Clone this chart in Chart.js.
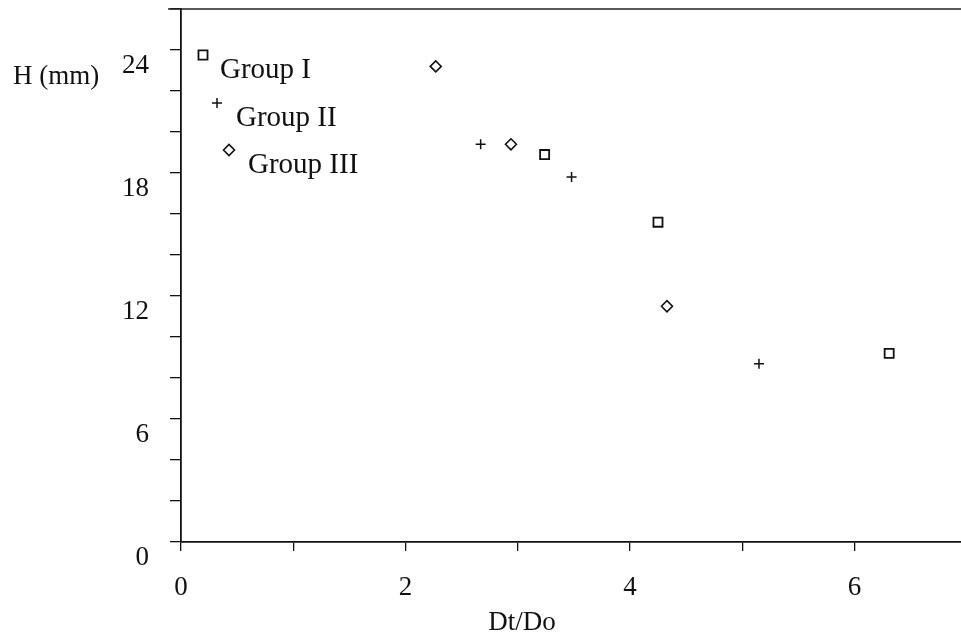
<!DOCTYPE html>
<html>
<head>
<meta charset="utf-8">
<title>H vs Dt/Do</title>
<script src="https://cdn.jsdelivr.net/npm/chart.js@4/dist/chart.umd.min.js"></script>
<style>
  html, body { margin: 0; padding: 0; background: #fff; }
  canvas { display: block; }
</style>
</head>
<body>
<canvas id="chart" width="961" height="639"></canvas>
<script>
// Measured points, H (mm) against Dt/Do
const groupI_x   = [3.24, 4.25, 6.31];
const groupI_y   = [18.9, 15.6, 9.2];
const groupII_x  = [2.67, 3.48, 5.15];
const groupII_y  = [19.4, 17.8, 8.7];
const groupIII_x = [2.27, 2.94, 4.33];
const groupIII_y = [23.2, 19.4, 11.5];

const seriesNames = ['Group I', 'Group II', 'Group III'];
const xTickLabels = [0, 2, 4, 6];
const yTickLabels = [0, 6, 12, 18, 24];

const INK = '#111';
const FONT = 'Liberation Serif, Times New Roman, serif';

function pairs(xs, ys) {
  return xs.map((x, i) => ({ x: x, y: ys[i] }));
}

const styles = [
  { pointStyle: 'rect',    radius: 6.4, borderWidth: 1.8 },
  { pointStyle: 'cross',   radius: 5,   borderWidth: 1.5 },
  { pointStyle: 'rectRot', radius: 5.5, borderWidth: 1.6 }
];

const datasets = [
  pairs(groupI_x, groupI_y),
  pairs(groupII_x, groupII_y),
  pairs(groupIII_x, groupIII_y)
].map((data, i) => ({
  label: seriesNames[i],
  data: data,
  showLine: false,
  pointStyle: styles[i].pointStyle,
  pointRadius: styles[i].radius,
  pointHoverRadius: styles[i].radius,
  pointBorderWidth: styles[i].borderWidth,
  pointBorderColor: INK,
  pointBackgroundColor: 'rgba(255,255,255,0)'
}));

// Fixed axis sizes, no extra room for overhanging tick labels
function fixX(scale) {
  scale.height = 97;
  scale.paddingLeft = 0;
  scale.paddingRight = 0;
}
function fixY(scale) {
  scale.width = 181;
  scale.paddingTop = 0;
  scale.paddingBottom = 0;
}

// Axis titles, staggered key inside the plot, and the top frame line
const decorations = {
  id: 'decorations',
  afterDraw(chart) {
    const ctx = chart.ctx;
    const a = chart.chartArea;
    ctx.save();

    // top frame line
    ctx.strokeStyle = '#222';
    ctx.lineWidth = 1.5;
    ctx.beginPath();
    ctx.moveTo(a.left - 13, a.top);
    ctx.lineTo(chart.width, a.top);
    ctx.stroke();

    // axis titles
    ctx.fillStyle = INK;
    ctx.textBaseline = 'middle';
    ctx.font = '27px ' + FONT;
    ctx.textAlign = 'left';
    ctx.fillText('H (mm)', 13, 77);
    ctx.textAlign = 'center';
    ctx.fillText('Dt/Do', 522, 623);

    // key
    const key = [
      { dx: 22, dy: 46, tx: 39, ty: 61 },
      { dx: 36, dy: 94, tx: 55, ty: 109 },
      { dx: 48, dy: 141, tx: 67, ty: 156 }
    ];
    ctx.font = '29px ' + FONT;
    ctx.textAlign = 'left';
    key.forEach((k, i) => {
      ctx.strokeStyle = INK;
      ctx.fillStyle = 'rgba(255,255,255,0)';
      ctx.lineWidth = styles[i].borderWidth;
      Chart.helpers.drawPoint(ctx, {
        pointStyle: styles[i].pointStyle,
        radius: styles[i].radius,
        borderWidth: styles[i].borderWidth,
        rotation: 0
      }, a.left + k.dx, a.top + k.dy);
      ctx.fillStyle = INK;
      ctx.fillText(seriesNames[i], a.left + k.tx, a.top + k.ty);
    });
    ctx.restore();
  }
};

new Chart(document.getElementById('chart'), {
  type: 'scatter',
  data: { datasets: datasets },
  options: {
    responsive: false,
    animation: false,
    devicePixelRatio: 1,
    layout: { autoPadding: false, padding: { top: 9, right: 0, left: 0, bottom: 0 } },
    plugins: {
      legend: { display: false },
      tooltip: { enabled: false },
      title: { display: false }
    },
    scales: {
      x: {
        type: 'linear',
        min: 0,
        max: 6.95,
        afterFit: fixX,
        border: { display: true, color: INK, width: 1.8 },
        grid: {
          drawOnChartArea: false,
          drawTicks: true,
          tickLength: 9,
          color: INK,
          lineWidth: 1.3
        },
        ticks: {
          stepSize: 1,
          includeBounds: false,
          autoSkip: false,
          maxRotation: 0,
          padding: 21,
          color: INK,
          font: { family: FONT, size: 27 },
          callback: v => xTickLabels.includes(v) ? String(v) : ''
        }
      },
      y: {
        type: 'linear',
        min: 0,
        max: 26,
        afterFit: fixY,
        border: { display: true, color: INK, width: 1.8 },
        grid: {
          drawOnChartArea: false,
          drawTicks: true,
          tickLength: 11,
          color: INK,
          lineWidth: 1.3
        },
        ticks: {
          stepSize: 2,
          includeBounds: false,
          autoSkip: false,
          padding: 21,
          labelOffset: 16,
          color: INK,
          font: { family: FONT, size: 27 },
          callback: v => yTickLabels.includes(v) ? String(v) : ''
        }
      }
    }
  },
  plugins: [decorations]
});
</script>
</body>
</html>
